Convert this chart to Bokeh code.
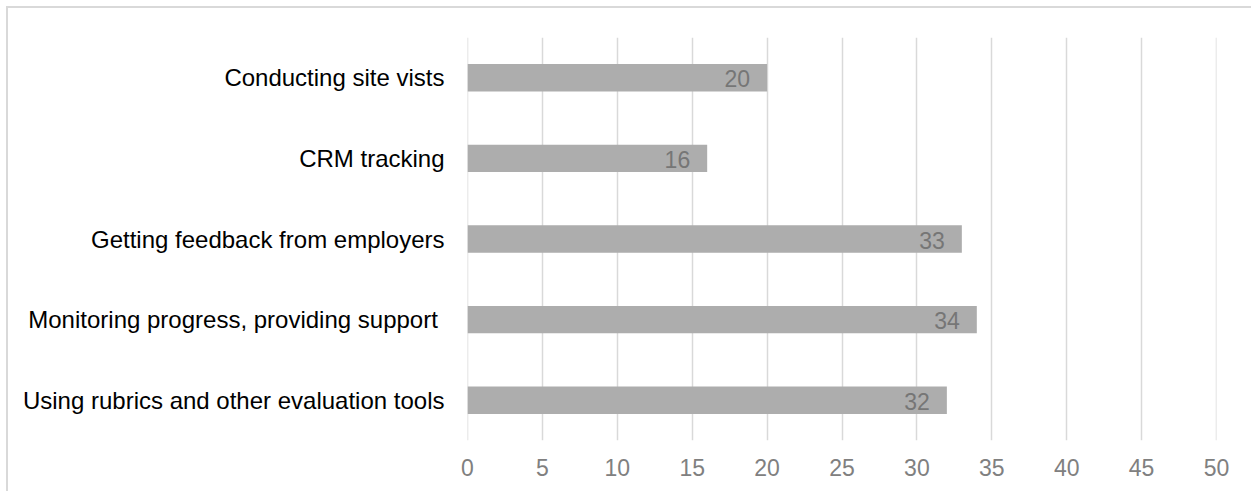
from bokeh.plotting import figure
from bokeh.models import Range1d, FactorRange, Span, ColumnDataSource, FixedTicker
from bokeh.core.properties import value
from bokeh.embed import file_html
from bokeh.resources import INLINE

categories = [
    "Conducting site vists",
    "CRM tracking",
    "Getting feedback from employers",
    "Monitoring progress, providing support ",
    "Using rubrics and other evaluation tools",
]
counts = [20, 16, 33, 34, 32]
x_ticks = [0, 5, 10, 15, 20, 25, 30, 35, 40, 45, 50]

src = ColumnDataSource(dict(cat=categories, val=counts, lab=[str(v) for v in counts]))

p = figure(
    width=1245, height=485,
    y_range=FactorRange(*list(reversed(categories)), range_padding=0),
    x_range=Range1d(0, 50),
    output_backend="svg", toolbar_location=None,
    min_border_left=459, min_border_right=37, min_border_top=29, min_border_bottom=53,
    margin=(8, 0, 0, 8),
    styles={"box-shadow": "-2px -2px 0px 0px #D9D9D9"},
)
p.outline_line_color = None
p.background_fill_color = "white"
p.border_fill_color = "white"

for t in (x_ticks[0], x_ticks[-1]):
    p.add_layout(Span(location=t, dimension="height", line_color="#D9D9D9",
                      line_width=1.5, level="underlay"))

p.hbar(y="cat", right="val", left=0, height=0.34, source=src,
       fill_color="#ADADAD", line_color=None)

p.text(x="val", y="cat", text="lab", source=src, text_align="right",
       text_baseline="middle", x_offset=-17, y_offset=1,
       text_font=value("Liberation Sans"), text_font_size="23px",
       text_color="#767676")

p.xgrid.grid_line_color = "#D9D9D9"
p.xgrid.grid_line_width = 1.5
p.ygrid.grid_line_color = None
p.xaxis.ticker = FixedTicker(ticks=x_ticks)
p.xaxis.axis_line_color = None
p.xaxis.major_tick_line_color = None
p.xaxis.minor_tick_line_color = None
p.xaxis.major_label_text_font = "Liberation Sans"
p.xaxis.major_label_text_font_size = "23px"
p.xaxis.major_label_text_color = "#808080"
p.xaxis.major_label_standoff = 12

p.yaxis.axis_line_color = None
p.yaxis.major_tick_line_color = None
p.yaxis.minor_tick_line_color = None
p.yaxis.major_label_text_font = "Liberation Sans"
p.yaxis.major_label_text_font_size = "24px"
p.yaxis.major_label_text_color = "#000000"
p.yaxis.major_label_standoff = 17

open("out.html", "w").write(file_html(p, INLINE))
